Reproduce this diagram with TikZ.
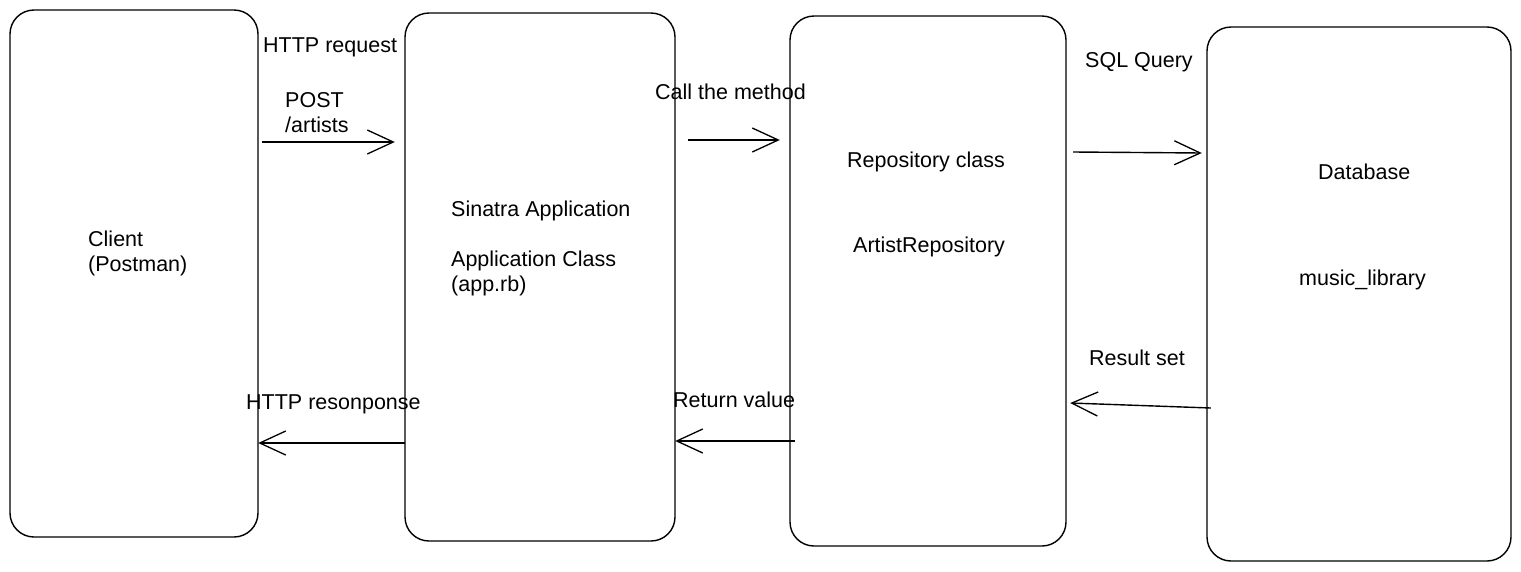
\documentclass[tikz,border=0pt]{standalone}
\usepackage{fontspec}
\setmainfont{Liberation Sans}
\usetikzlibrary{arrows.meta}
\begin{document}
\begin{tikzpicture}[x=1pt,y=-1pt,
  box/.style={draw=black,line width=1.4pt,rounded corners=24pt},
  lbl/.style={anchor=west,inner sep=0pt,font=\fontsize{21.5}{25}\selectfont,align=left},
  arr/.style={line width=1.4pt,-{Straight Barb[length=26pt,width=24pt,line width=1.3pt]}}]
\useasboundingbox (0,0) rectangle (1521,571);
\fill[white] (0,0) rectangle (1521,571);
% boxes
\path[box] (10,10) rectangle (258,537);
\path[box] (405,13) rectangle (675,541);
\path[box] (790,16) rectangle (1066,546);
\path[box] (1207,27) rectangle (1511,561);
\node[inner sep=0pt,minimum width=248pt,minimum height=527pt] (client) at (134,273.5) {};
\node[inner sep=0pt,minimum width=270pt,minimum height=528pt] (sinatra) at (540,277) {};
\node[inner sep=0pt,minimum width=276pt,minimum height=530pt] (repo) at (928,281) {};
\node[inner sep=0pt,minimum width=304pt,minimum height=534pt] (db) at (1359,294) {};
% box texts
\node[lbl] (tclient) at (88,253) {Client\\(Postman)};
\node[lbl] (tsin1) at (451,211) {Sinatra Application};
\node[lbl] (tsin2) at (451,273) {Application Class\\(app.rb)};
\node[lbl] (trepo1) at (847,162) {Repository class};
\node[lbl] (trepo2) at (853,247) {ArtistRepository};
\node[lbl] (tdb1) at (1318,172) {Database};
\node[lbl] (tdb2) at (1299,280) {music\_library};
% connector labels
\node[lbl] (l1) at (263,47) {HTTP request};
\node[lbl] (l2) at (285,113) {POST\\/artists};
\node[lbl] (l3) at (655,92) {Call the method};
\node[lbl] (l4) at (1085,62) {SQL Query};
\node[lbl] (l5) at (1089,358) {Result set};
\node[lbl] (l6) at (673,400) {Return value};
\node[lbl] (l7) at (246,404) {HTTP resonponse};
% connectors
\coordinate (a1s) at ([xshift=4pt]client.east |- 0,142);
\coordinate (a1e) at ([xshift=-10pt]sinatra.west |- 0,142);
\coordinate (a2s) at ([xshift=13pt]sinatra.east |- 0,140);
\coordinate (a2e) at ([xshift=-10pt]repo.west |- 0,140);
\coordinate (a3s) at ([xshift=7pt]repo.east |- 0,152);
\coordinate (a3e) at ([xshift=-5pt]db.west |- 0,153);
\coordinate (a4s) at ([xshift=4pt]db.west |- 0,408);
\coordinate (a4e) at ([xshift=4pt]repo.east |- 0,403);
\coordinate (a5s) at ([xshift=5pt]repo.west |- 0,441);
\coordinate (a5e) at (sinatra.east |- 0,441);
\coordinate (a6s) at (sinatra.west |- 0,443);
\coordinate (a6e) at (client.east |- 0,443);
\draw[arr] (a1s) -- (a1e);
\draw[arr] (a2s) -- (a2e);
\draw[arr] (a3s) -- (a3e);
\draw[arr] (a4s) -- (a4e);
\draw[arr] (a5s) -- (a5e);
\draw[arr] (a6s) -- (a6e);
\end{tikzpicture}
\end{document}
